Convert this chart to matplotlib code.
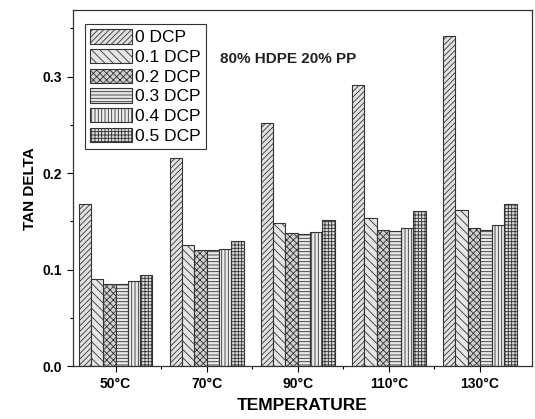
import matplotlib
matplotlib.use('Agg')
import matplotlib.pyplot as plt
import numpy as np

plt.rcParams['font.family'] = ['Liberation Sans', 'DejaVu Sans']
plt.rcParams['hatch.color'] = '#555555'
plt.rcParams['hatch.linewidth'] = 0.6

temps = ['50°C', '70°C', '90°C', '110°C', '130°C']
series = ['0 DCP', '0.1 DCP', '0.2 DCP', '0.3 DCP', '0.4 DCP', '0.5 DCP']
dcp_0 = [0.168, 0.216, 0.252, 0.291, 0.342]
dcp_01 = [0.090, 0.126, 0.148, 0.154, 0.162]
dcp_02 = [0.085, 0.120, 0.138, 0.141, 0.143]
dcp_03 = [0.085, 0.120, 0.137, 0.140, 0.141]
dcp_04 = [0.088, 0.121, 0.139, 0.143, 0.146]
dcp_05 = [0.094, 0.130, 0.151, 0.161, 0.168]
values = [dcp_0, dcp_01, dcp_02, dcp_03, dcp_04, dcp_05]
yticks = [0.0, 0.1, 0.2, 0.3]

hatches = ['//////', '\\\\\\\\', 'xxxxx', '-----', '|||||', '+++++']
faces = ['#e2e2e2', '#e6e6e6', '#cfcfcf', '#e8e8e8', '#ececec', '#dadada']

fig = plt.figure(figsize=(5.35, 4.19), dpi=100)
ax = fig.add_axes([0.136, 0.126, 0.858, 0.85])

x = np.arange(len(temps))
w = 0.135
for i, (name, vals) in enumerate(zip(series, values)):
    off = (i - 2.5) * w
    ax.bar(x + off, vals, w, label=name, facecolor=faces[i], edgecolor='#333333',
           linewidth=0.8, hatch=hatches[i])

ax.set_xlim(-0.47, 4.57)
ax.set_ylim(0, 0.369)
ax.set_xticks(x)
ax.set_xticklabels(temps, fontweight='bold', fontsize=10)
ax.set_xticks(x[:-1] + 0.5, minor=True)
ax.set_yticks(yticks)
ax.set_yticklabels(['%.1f' % t for t in yticks], fontweight='bold', fontsize=10)
ax.set_yticks([0.05, 0.15, 0.25, 0.35], minor=True)
ax.tick_params(which='major', length=4, width=0.8, direction='out')
ax.tick_params(which='minor', length=2.5, width=0.8, direction='out')

ax.set_xlabel('TEMPERATURE', fontweight='bold', fontsize=12.5, labelpad=5)
ax.set_ylabel('TAN DELTA', fontweight='bold', fontsize=11)

for s in ax.spines.values():
    s.set_linewidth(0.9)
    s.set_color('#333333')

ax.text(0.32, 0.85, '80% HDPE 20% PP', transform=ax.transAxes,
        fontweight='bold', fontsize=11, color='#222222')

leg = ax.legend(loc='upper left', bbox_to_anchor=(0.008, 0.985), fontsize=12.5,
                handlelength=2.4, handleheight=0.9, handletextpad=0.2,
                labelspacing=0.2, borderpad=0.3, fancybox=False,
                edgecolor='#333333', framealpha=1)
leg.get_frame().set_linewidth(0.8)

fig.savefig('out.png', dpi=100)
